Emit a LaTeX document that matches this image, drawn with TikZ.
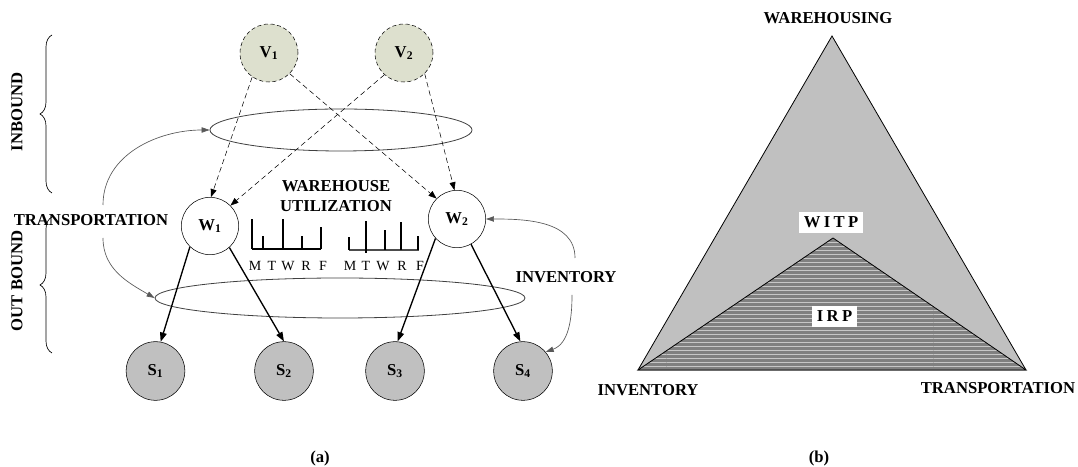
\documentclass[tikz,border=0pt]{standalone}
\usepackage{fontspec}
\setmainfont{Liberation Serif}
\usetikzlibrary{arrows.meta,decorations.pathreplacing,shapes.geometric,patterns}
\definecolor{vgreen}{RGB}{221,224,206}
\definecolor{sgray}{RGB}{192,192,192}
\def\BAR#1#2#3{\draw[bar] (#1,#2) -- (#1,#3);}

\tikzset{
  lbl/.style={font=\fontsize{12.5}{15}\selectfont\bfseries, inner sep=1pt},
  vnode/.style={lbl, circle, draw, dash pattern=on 3pt off 2pt, fill=vgreen, minimum size=43.5pt, inner sep=0pt},
  wnode/.style={lbl, circle, draw, fill=white, minimum size=43pt, inner sep=0pt},
  snode/.style={lbl, circle, draw, fill=sgray, minimum size=44pt, inner sep=0pt},
  ring/.style={ellipse, draw=black!75, line width=0.6pt, inner sep=0pt},
  inflow/.style={dash pattern=on 4pt off 2.5pt, -{Triangle[length=6pt,width=4.5pt]}},
  outflow/.style={line width=1pt, -{Triangle[length=7pt,width=5pt]}},
  curvy/.style={draw=black!65, line width=0.5pt, -{Triangle[length=6pt,width=4pt]}},
  bar/.style={line width=0.9pt},
  brc/.style={decorate, decoration={brace, amplitude=9pt}, line width=0.5pt},
  day/.style={font=\fontsize{10.5}{12}\selectfont, inner sep=0pt},
  tag/.style={lbl, fill=white, minimum height=15.75pt}
}

\begin{document}
\begin{tikzpicture}[x=0.75pt,y=0.75pt]
\useasboundingbox (0,0) rectangle (1078,467);
% (a) network
\node[ring, minimum width=196.5pt, minimum height=31.5pt] (inb) at (341,337) {};
\node[ring, minimum width=277.5pt, minimum height=30pt] (outb) at (340,169) {};

\node[vnode] (v1) at (269,414) {V\textsubscript{1}};
\node[vnode] (v2) at (404,414) {V\textsubscript{2}};
\node[wnode] (w1) at (210,241) {W\textsubscript{1}};
\node[wnode] (w2) at (457,248) {W\textsubscript{2}};
\node[snode] (s1) at (155.5,96) {S\textsubscript{1}};
\node[snode] (s2) at (284,96) {S\textsubscript{2}};
\node[snode] (s3) at (395,96) {S\textsubscript{3}};
\node[snode] (s4) at (523,96) {S\textsubscript{4}};

\draw[inflow] (v1.235) -- (w1.88);
\draw[inflow] (v1.315) -- (w2.135);
\draw[inflow] (v2.228) -- (w1.45);
\draw[inflow] (v2.315) -- (w2.95);

\draw[outflow] (w1.226) -- (s1.80);
\draw[outflow] (w1.312) -- (s2.90);
\draw[outflow] (w2.222) -- (s3.85);
\draw[outflow] (w2.299) -- (s4.95);

\node[lbl] (trans) at (91,247) {TRANSPORTATION};
\coordinate (t1) at (103,262);
\coordinate (t2) at (103,229);
\draw[curvy] (t1) to[out=90,in=180] (inb.west);
\draw[curvy] (t2) to[out=-90,in=150] (outb.west);

\node[lbl] (inv) at (566,190) {INVENTORY};
\coordinate (i1) at (575,209);
\coordinate (i2) at (572,172);
\draw[curvy] (i1) to[out=90,in=0] (w2.east);
\draw[curvy] (i2) to[out=-90,in=20] (s4.40);

\draw[brc] (52,274) -- (52,432);
\draw[brc] (52,114) -- (52,250);
\node[lbl, rotate=90] (inbl) at (17,355) {INBOUND};
\node[lbl, rotate=90] (outbl) at (17,186) {OUT BOUND};

% warehouse utilization
\node[lbl, align=center] (wu) at (336,271) {WAREHOUSE\\UTILIZATION};
\draw[bar] (252,218) -- (321,218);
\foreach \x/\h in {252/248,263/231,283/248,302/231,321/240} {\BAR{\x}{218}{\h}}
\draw[bar, draw=black!70, line width=1.1pt] (349,217) -- (419,217);
\foreach \x/\h in {349/230,385/237,401/245,418/231} {\BAR{\x}{217}{\h}}
\BAR{366}{214}{246}
\foreach \x/\d [count=\i] in {255/M,272/T,288/W,306/R,323/F,350/M,366/T,383/W,402/R,420/F}
  \node[day] (d\i) at (\x,201) {\d};

\node[lbl] (capa) at (320,9) {(a)};

% (b) triangle
\coordinate (top) at (832,431);
\coordinate (lft) at (638,97);
\coordinate (rgt) at (1026,97);
\coordinate (mid) at (833,229);
\draw[fill=sgray, line width=0.6pt] (lft) -- (top) -- (rgt) -- cycle;
\fill[black!50] (lft) -- (mid) -- (rgt) -- cycle;
\fill[pattern=horizontal lines, pattern color=black!22] (lft) -- (mid) -- (rgt) -- cycle;
\draw[line width=0.6pt] (lft) -- (mid) -- (rgt) -- cycle;

\node[lbl] (wh) at (828,449) {WAREHOUSING};
\node[tag, minimum width=48pt] (witp) at (831,244.5) {\addfontfeature{LetterSpace=20}WITP};
\node[tag, minimum width=33.75pt] (irp) at (834.5,150.5) {\addfontfeature{LetterSpace=20}IRP};
\node[lbl] (invb) at (648,77) {INVENTORY};
\node[lbl] (trb) at (998,79) {TRANSPORTATION};
\node[lbl] (capb) at (819,9) {(b)};
\end{tikzpicture}
\end{document}
